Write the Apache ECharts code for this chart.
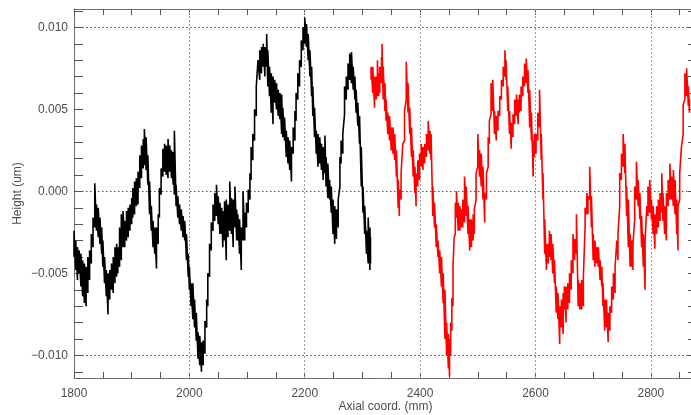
<!DOCTYPE html>
<html>
<head>
<meta charset="utf-8">
<script src="https://cdn.jsdelivr.net/npm/echarts@6/dist/echarts.min.js"></script>
<style>
  html, body { margin: 0; padding: 0; background: #fff; }
  #chart { width: 691px; height: 415px; }
</style>
</head>
<body>
<div id="chart"></div>
<script>
// Height profile along the axial coordinate. Each sample position carries the
// low and high edge of the noisy trace, in thousandths of a micron.
const blackAxial = [
  1800,1803,1806,1809,1812,1815,1818,1821,1824,1827,
  1830,1833,1836,1839,1842,1845,1848,1850,1853,1856,
  1859,1862,1865,1868,1871,1874,1876,1879,1882,1885,
  1888,1891,1894,1897,1900,1902,1905,1908,1911,1914,
  1917,1920,1922,1925,1928,1931,1934,1937,1940,1943,
  1946,1948,1951,1954,1957,1960,1963,1966,1969,1972,
  1974,1977,1980,1983,1986,1989,1992,1995,1998,2000,
  2003,2006,2009,2012,2015,2018,2021,2024,2027,2030,
  2032,2035,2038,2041,2044,2047,2050,2053,2056,2058,
  2061,2064,2067,2070,2073,2076,2079,2082,2084,2087,
  2090,2093,2096,2099,2102,2105,2107,2110,2113,2116,
  2119,2122,2125,2128,2131,2134,2136,2139,2142,2145,
  2148,2151,2154,2157,2160,2162,2165,2168,2171,2174,
  2177,2180,2183,2185,2188,2191,2194,2197,2200,2203,
  2206,2209,2212,2214,2217,2220,2223,2226,2229,2232,
  2235,2237,2240,2243,2246,2249,2252,2255,2258,2261,
  2263,2266,2269,2272,2275,2278,2281,2284,2287,2289,
  2292,2295,2298,2301,2304,2307,2310,2313,2314
];
const blackHigh = [
  -2.4,-3.0,-3.4,-3.6,-3.8,-4.2,-4.4,-4.6,-4.0,-3.6,
  -2.6,-1.6, 0.5,-0.8,-1.0,-1.6,-2.2,-3.0,-4.0,-4.8,
  -5.0,-4.8,-4.4,-4.0,-3.4,-3.2,-3.4,-2.2,-1.4,-1.2,
  -1.8,-1.2,-1.0,-0.8,-0.4, 0.2, 0.6, 0.8, 1.2, 2.2,
   2.8, 3.2, 3.8, 3.3, 2.2, 0.6,-0.9,-1.8,-2.2,-2.2,
  -1.4, 0.2, 1.4, 2.6, 2.9, 2.8, 3.2, 2.8, 2.5, 2.4,
   3.7, 0.4,-0.3,-0.8,-1.1,-1.5,-1.8,-2.6,-3.8,-4.6,
  -5.6,-5.6,-6.6,-7.4,-8.6,-8.8,-9.2,-9.1,-7.9,-6.6,
  -5.0,-3.2,-1.9,-0.8,-0.1, 0.4,-0.3,-0.7,-1.0,-1.2,
  -0.6,-0.5,-0.8, 0.6,-0.4,-0.5, 0.3,-1.1,-1.4,-1.7,
  -2.2, 0.0,-1.3,-0.7, 0.1, 1.1, 2.7, 3.5, 5.0, 6.4,
   8.0, 8.6, 8.8, 9.0, 8.8, 9.6, 8.6, 7.6, 7.2, 7.0,
   6.8, 6.6, 6.2, 6.0, 5.9, 5.1, 4.5, 3.7, 3.3, 3.1,
   2.7, 3.9, 4.9, 6.0, 7.2, 8.0, 9.2,10.0,10.6,10.2,
   9.6, 8.6, 7.6, 6.4, 5.1, 3.7, 3.5, 3.3, 2.9, 2.7,
   3.4, 2.1, 1.7, 0.7, 0.3,-0.5,-0.9,-1.1,-0.5, 2.1,
   3.1, 3.5, 6.4, 7.0, 7.8, 8.4, 8.5, 7.6, 7.0, 6.2,
   5.4, 4.6, 2.7, 0.3,-0.9,-2.4,-1.6,-2.2,-2.8
];
const blackLow = [
  -4.0,-4.8,-5.4,-5.0,-5.8,-6.4,-6.8,-7.0,-6.2,-5.4,
  -4.4,-3.4,-2.2,-2.4,-2.8,-3.2,-3.8,-4.6,-5.6,-6.4,
  -7.5,-6.6,-6.0,-6.2,-5.6,-5.2,-5.0,-4.6,-4.2,-3.4,
  -3.4,-3.0,-2.8,-2.4,-2.0,-1.6,-1.4,-0.9,-0.8, 0.2,
   0.8, 1.4, 1.6, 1.3, 0.4,-1.4,-2.4,-3.4,-3.8,-4.7,
  -3.2,-1.6,-0.2, 0.9, 1.2, 1.0, 0.8, 1.2, 0.8, 0.4,
  -0.2,-0.9,-1.6,-2.0,-2.4,-2.8,-3.0,-4.2,-5.2,-6.0,
  -7.0,-7.8,-8.3,-9.1,-10.2,-10.6,-11.0,-10.6,-9.9,-8.3,
  -7.0,-5.2,-3.6,-2.4,-1.8,-1.5,-2.0,-2.6,-2.6,-3.4,
  -3.0,-4.2,-2.8,-2.4,-2.6,-3.4,-2.2,-3.0,-3.0,-3.8,
  -4.8,-3.0,-3.0,-2.2,-1.3,-0.5, 0.7, 1.9, 3.1, 4.6,
   6.4, 6.8, 7.2, 7.6, 7.0, 7.6, 6.4, 5.8, 4.8, 4.1,
   5.4, 5.0, 4.6, 4.4, 3.5, 3.3, 3.1, 2.1, 1.7, 1.3,
   0.6, 2.3, 3.1, 4.3, 5.6, 6.4, 7.6, 8.6, 9.0, 8.8,
   8.0, 7.0, 5.8, 4.6, 3.3, 2.3, 1.5, 1.7, 1.3, 0.7,
   1.1, 0.3,-0.4,-0.5,-1.3,-2.6,-3.2,-2.9,-2.2, 0.3,
   1.7, 2.3, 4.7, 5.6, 6.2, 6.8, 6.6, 6.2, 5.6, 4.8,
   4.0, 2.9, 0.3,-1.3,-2.6,-3.8,-4.4,-4.8,-4.4
];

const redAxial = [
  2315,2318,2321,2324,2326,2328,2330,2333,2334,2336,
  2339,2341,2344,2347,2350,2353,2356,2359,2362,2364,
  2367,2370,2373,2376,2379,2382,2385,2388,2391,2393,
  2396,2399,2402,2405,2408,2411,2414,2417,2419,2422,
  2425,2428,2431,2434,2437,2440,2443,2446,2449,2451,
  2453,2455,2457,2459,2461,2463,2466,2469,2471,2474,
  2477,2480,2483,2486,2489,2492,2494,2497,2500,2503,
  2506,2509,2512,2515,2518,2520,2523,2526,2529,2532,
  2535,2538,2541,2544,2547,2549,2552,2555,2558,2561,
  2564,2567,2570,2572,2575,2578,2581,2584,2587,2590,
  2593,2596,2598,2601,2604,2607,2610,2613,2616,2619,
  2622,2624,2627,2630,2633,2636,2639,2642,2645,2648,
  2650,2653,2656,2659,2662,2665,2668,2671,2674,2677,
  2680,2683,2686,2689,2691,2694,2697,2700,2703,2706,
  2709,2712,2715,2717,2720,2723,2726,2729,2732,2735,
  2738,2741,2743,2746,2749,2752,2755,2758,2761,2764,
  2767,2769,2772,2775,2778,2781,2784,2787,2790,2793,
  2795,2798,2801,2804,2807,2810,2813,2816,2819,2821,
  2824,2827,2830,2833,2836,2839,2842,2845,2847,2850,
  2853,2856,2859,2862,2865,2867
];
const redHigh = [
   7.6, 7.6, 7.0, 7.0, 8.0, 7.2, 7.6, 8.2, 9.0, 7.6,
   6.6, 5.6, 4.8, 4.6, 3.9, 3.9, 3.5, 2.5, 0.7, 0.1,
   1.1, 2.9, 4.9, 7.9, 6.6, 5.1, 3.9, 2.5, 1.5, 1.1,
   1.9, 2.3, 2.9, 2.7, 2.9, 3.5, 4.3, 3.7, 3.5, 0.3,
  -0.7,-2.0,-3.0,-3.6,-4.0,-5.0,-6.0,-8.0,-8.7,-9.0,
  -8.0,-6.5,-4.6,-2.8,-0.7, 0.0,-0.7,-0.9,-1.1,-0.5,
   0.9, 0.3,-0.9,-1.7,-1.7,-1.4,-1.1, 1.1, 3.5, 2.5,
   2.3, 1.5,-0.1, 1.1, 3.3, 4.3, 6.6, 6.8, 4.9, 4.6,
   4.9, 5.8, 6.8, 7.6, 8.6, 8.0, 6.4, 4.9, 4.2, 4.7,
   5.6, 5.9, 5.6, 5.9, 6.4, 7.0, 7.8, 8.1, 7.4, 6.2,
   4.8, 3.1, 3.5, 3.5, 4.8, 6.2, 3.5, 1.1,-1.7,-3.2,
  -3.2,-2.4,-2.6,-3.2,-4.2,-5.8,-6.2,-7.0,-6.6,-6.2,
  -5.8,-5.8,-5.6,-5.0,-4.2,-2.6,-2.9,-1.4,-5.4,-5.6,
  -5.4,-5.2,-1.0,-0.1,-0.3, 1.5,-0.3,-2.6,-3.0,-3.4,
  -3.4,-4.2,-4.6,-5.6,-6.6,-6.6,-7.4,-7.0,-5.8,-5.0,
  -4.6,-3.0,-2.6, 1.1, 2.3, 3.5, 2.9, 0.3,-0.5,-2.6,
  -3.0,-3.2, 0.3, 1.8, 0.7,-0.1,-1.5,-2.6,-3.0,-0.9,
   0.3, 0.7,-0.5,-0.9,-1.4,-0.9,-0.5,-0.1, 1.1,-0.1,
  -0.9,-0.1, 0.7, 1.7, 0.9, 1.3, 0.7,-0.5,-0.9, 1.1,
   2.7, 5.3, 7.2, 7.5, 6.4, 5.6
];
const redLow = [
   6.8, 6.0, 5.1, 5.6, 5.8, 5.8, 6.0, 6.6, 6.8, 5.6,
   4.9, 4.3, 3.5, 3.1, 2.5, 2.3, 1.9, 0.9,-1.0,-1.5,
  -0.5, 1.1, 3.1, 5.6, 4.8, 3.5, 2.1, 0.9,-0.1,-0.9,
   0.3, 0.7, 1.5, 1.3, 1.7, 2.1, 2.5, 2.3, 1.9,-1.5,
  -2.2,-3.4,-4.0,-5.0,-5.8,-6.8,-9.0,-10.0,-10.8,-11.3,
  -10.0,-8.5,-7.0,-4.6,-2.6,-1.6,-2.4,-2.4,-2.2,-2.2,
  -1.9,-1.5,-2.6,-3.6,-3.4,-3.0,-2.6,-0.5, 1.5, 0.9,
   0.3,-0.5,-1.9,-0.5, 1.5, 2.9, 4.7, 4.9, 3.5, 3.1,
   3.7, 4.6, 5.6, 6.4, 7.0, 6.8, 4.9, 3.5, 2.6, 3.3,
   4.1, 4.6, 4.1, 4.8, 4.9, 5.8, 6.4, 6.6, 6.0, 3.9,
   3.1, 0.9, 2.1, 2.3, 3.1, 3.9, 1.9,-0.5,-3.8,-4.8,
  -4.4,-4.0,-4.2,-5.0,-5.6,-7.4,-7.8,-9.3,-8.3,-8.7,
  -7.2,-8.0,-7.2,-6.8,-6.0,-5.0,-4.2,-3.8,-7.0,-7.2,
  -7.2,-7.0,-2.2,-1.4,-1.4,-0.5,-2.2,-4.2,-4.6,-4.4,
  -4.6,-5.4,-5.8,-7.0,-8.5,-8.3,-9.2,-8.5,-7.4,-6.6,
  -6.2,-4.6,-4.2,-0.9, 0.7, 1.5, 1.1,-1.5,-3.4,-4.6,
  -4.6,-4.8,-1.7,-0.5,-0.9,-1.7,-3.4,-4.6,-6.0,-3.0,
  -1.5,-1.3,-1.7,-2.6,-3.5,-2.6,-2.2,-1.8,-1.3,-1.8,
  -2.6,-3.0,-0.9,-0.5,-0.5,-0.9,-1.4,-2.6,-3.6,-0.5,
   1.1, 3.5, 5.6, 5.8, 5.2, 4.8
];

// Axis ranges, labels and guide lines
const X_MIN = 1800, X_MAX = 2880;
const Y_MIN = -0.01138, Y_MAX = 0.01112;
const xLabelValues = [1800, 2000, 2200, 2400, 2600, 2800];
const xTickValues = [1800,1850,1900,1950,2000,2050,2100,2150,2200,2250,2300,2350,2400,
                     2450,2500,2550,2600,2650,2700,2750,2800,2850];
const xGridValues = [2000, 2200, 2400, 2600, 2800];
const yLabelValues = [-0.010, -0.005, 0.000, 0.005, 0.010];
const yTickValues = [-0.011,-0.010,-0.009,-0.008,-0.007,-0.006,-0.005,-0.004,-0.003,-0.002,-0.001,
                     0,0.001,0.002,0.003,0.004,0.005,0.006,0.007,0.008,0.009,0.010,0.011];
const yGridValues = [-0.010, -0.005, 0.000, 0.005, 0.010];

const MILLI = 1e-3;

// Each sample is drawn as a vertical stroke from its low to its high edge,
// so the polyline fills the noise band of the trace.
function bandTrace(axial, low, high) {
  const pts = [];
  for (let i = 0; i < axial.length; i++) {
    pts.push([axial[i], low[i] * MILLI]);
    pts.push([axial[i], high[i] * MILLI]);
  }
  return pts;
}

const FONT = 'Liberation Sans, Arial, Helvetica, sans-serif';
const TEXT_COLOR = '#4d4d4d';
const AXIS_COLOR = '#6e6e6e';

function xAxisDef(position, withLabels) {
  return {
    type: 'value', position, min: X_MIN, max: X_MAX,
    axisLine: { show: true, onZero: false, lineStyle: { color: AXIS_COLOR, width: 1 } },
    axisTick: { show: true, inside: true, length: 6, customValues: xTickValues,
                lineStyle: { color: '#555', width: 1 } },
    axisLabel: withLabels
      ? { show: true, customValues: xLabelValues, margin: 10, fontFamily: FONT, fontSize: 12, color: TEXT_COLOR,
          formatter: v => String(Math.round(v)) }
      : { show: false },
    splitLine: { show: false },
    name: withLabels ? 'Axial coord. (mm)' : '',
    nameLocation: 'middle', nameGap: 23, nameMoveOverlap: false,
    nameTextStyle: { fontFamily: FONT, fontSize: 12, color: TEXT_COLOR }
  };
}

function yAxisDef(position, withLabels) {
  return {
    type: 'value', position, min: Y_MIN, max: Y_MAX,
    axisLine: { show: true, onZero: false, lineStyle: { color: AXIS_COLOR, width: 1 } },
    axisTick: { show: true, inside: true, length: 9, customValues: yTickValues,
                lineStyle: { color: '#555', width: 1 } },
    axisLabel: withLabels
      ? { show: true, customValues: yLabelValues, margin: 6, fontFamily: FONT, fontSize: 12, color: TEXT_COLOR,
          formatter: v => v.toFixed(3).replace('-', '\u2212') }
      : { show: false },
    splitLine: { show: false },
    name: withLabels ? 'Height (um)' : '',
    nameLocation: 'middle', nameGap: 50, nameRotate: 90, nameMoveOverlap: false,
    nameTextStyle: { fontFamily: FONT, fontSize: 12, color: TEXT_COLOR }
  };
}

const guideLines = [];
xGridValues.forEach(v => guideLines.push({ xAxis: v, lineStyle: { color: '#9a9a9a', type: [2, 2], width: 1 } }));
yGridValues.forEach(v => guideLines.push({ yAxis: v, lineStyle: { color: '#555', type: [1.5, 2.5], width: 1 } }));

const chart = echarts.init(document.getElementById('chart'), null, { renderer: 'canvas' });
chart.setOption({
  animation: false,
  backgroundColor: '#ffffff',
  grid: { left: 74, top: 9, right: -6, bottom: 37, outerBoundsMode: 'none', containLabel: false },
  xAxis: [xAxisDef('bottom', true), xAxisDef('top', false)],
  yAxis: [yAxisDef('left', true), yAxisDef('right', false)],
  series: [
    {
      name: 'guides', type: 'line', data: [], z: 1, silent: true,
      markLine: { silent: true, symbol: 'none', z: 1, animation: false,
                  label: { show: false }, emphasis: { disabled: true }, data: guideLines }
    },
    {
      name: 'first pass', type: 'line', z: 3, showSymbol: false, silent: true,
      data: bandTrace(blackAxial, blackLow, blackHigh),
      lineStyle: { color: '#000000', width: 1.6 }
    },
    {
      name: 'second pass', type: 'line', z: 3, showSymbol: false, silent: true,
      data: bandTrace(redAxial, redLow, redHigh),
      lineStyle: { color: '#ff0000', width: 1.6 }
    }
  ]
});
</script>
</body>
</html>
